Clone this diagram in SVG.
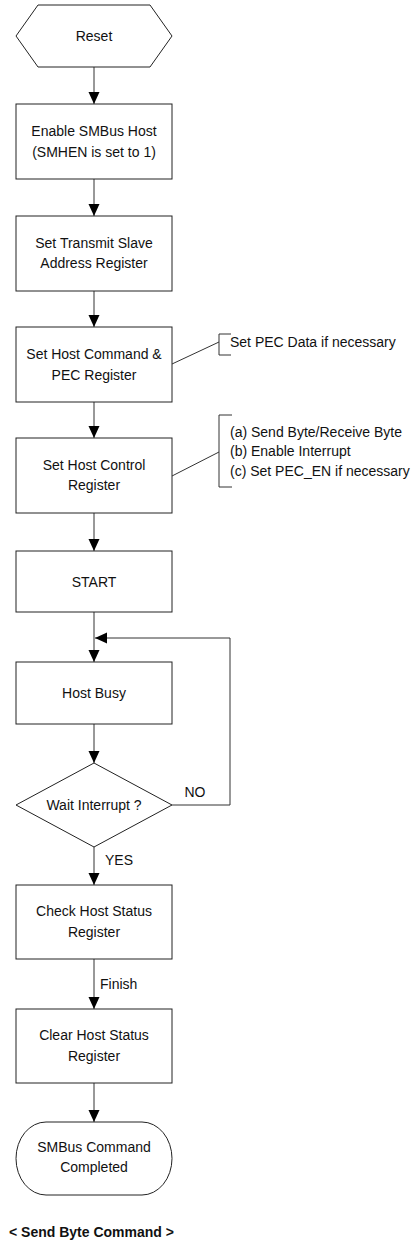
<svg xmlns="http://www.w3.org/2000/svg" width="414" height="1241" viewBox="0 0 414 1241">
<defs>
<style>
.shape{fill:#fff;stroke:#222;stroke-width:1}
.line{fill:none;stroke:#333;stroke-width:1}
text{font-family:"Liberation Sans",Arial,sans-serif;font-size:14px;fill:#111}
.c{text-anchor:middle}
.title{font-weight:bold}
</style>
<marker id="arr" viewBox="0 0 12 12" refX="12" refY="6" markerWidth="12" markerHeight="12" markerUnits="userSpaceOnUse" orient="auto">
<path d="M0,0.5 L12,6 L0,11.5 Z" fill="#000"/>
</marker>
</defs>
<rect width="414" height="1241" fill="#fff"/>
<g id="connectors">
<line class="line" x1="94" y1="67" x2="94" y2="104" marker-end="url(#arr)"/>
<line class="line" x1="94" y1="179" x2="94" y2="216" marker-end="url(#arr)"/>
<line class="line" x1="94" y1="291" x2="94" y2="327" marker-end="url(#arr)"/>
<line class="line" x1="94" y1="402" x2="94" y2="438" marker-end="url(#arr)"/>
<line class="line" x1="94" y1="513" x2="94" y2="551" marker-end="url(#arr)"/>
<line class="line" x1="94" y1="612" x2="94" y2="662" marker-end="url(#arr)"/>
<polyline class="line" points="172,805 230,805 230,638 95,638" marker-end="url(#arr)"/>
<line class="line" x1="94" y1="724" x2="94" y2="763" marker-end="url(#arr)"/>
<line class="line" x1="94" y1="847" x2="94" y2="885" marker-end="url(#arr)"/>
<line class="line" x1="94" y1="959" x2="94" y2="1009" marker-end="url(#arr)"/>
<line class="line" x1="94" y1="1083" x2="94" y2="1122" marker-end="url(#arr)"/>
<text x="195" y="797" class="c">NO</text>
<text x="105" y="865">YES</text>
<text x="100" y="989">Finish</text>
</g>
<g id="reset">
<polygon class="shape" points="16,36 38,5 150,5 172,36 150,67 38,67"/>
<text x="94" y="41" class="c">Reset</text>
</g>
<g id="enable">
<rect class="shape" x="16" y="104" width="156" height="75"/>
<text x="94" y="136" class="c">Enable SMBus Host</text>
<text x="94" y="157" class="c">(SMHEN is set to 1)</text>
</g>
<g id="slave">
<rect class="shape" x="16" y="216" width="156" height="75"/>
<text x="94" y="248" class="c">Set Transmit Slave</text>
<text x="94" y="268" class="c">Address Register</text>
</g>
<g id="command">
<rect class="shape" x="16" y="327" width="156" height="75"/>
<text x="94" y="359" class="c">Set Host Command &amp;</text>
<text x="94" y="380" class="c">PEC Register</text>
</g>
<g id="note1">
<line class="line" x1="172" y1="364" x2="219" y2="342"/>
<polyline class="line" points="231,334 219,334 219,355 231,355"/>
<text x="230" y="347">Set PEC Data if necessary</text>
</g>
<g id="control">
<rect class="shape" x="16" y="438" width="156" height="75"/>
<text x="94" y="470" class="c">Set Host Control</text>
<text x="94" y="490" class="c">Register</text>
</g>
<g id="note2">
<line class="line" x1="172" y1="476" x2="219" y2="452"/>
<polyline class="line" points="232,415 219,415 219,487 232,487"/>
<text x="230" y="437">(a) Send Byte/Receive Byte</text>
<text x="230" y="456">(b) Enable Interrupt</text>
<text x="230" y="476">(c) Set PEC_EN if necessary</text>
</g>
<g id="start">
<rect class="shape" x="16" y="551" width="156" height="61"/>
<text x="94" y="587" class="c">START</text>
</g>
<g id="busy">
<rect class="shape" x="16" y="662" width="156" height="62"/>
<text x="94" y="698" class="c">Host Busy</text>
</g>
<g id="wait">
<polygon class="shape" points="94,763 172,805 94,847 16,805"/>
<text x="94" y="810" class="c">Wait Interrupt ?</text>
</g>
<g id="check">
<rect class="shape" x="16" y="885" width="156" height="74"/>
<text x="94" y="916" class="c">Check Host Status</text>
<text x="94" y="937" class="c">Register</text>
</g>
<g id="clear">
<rect class="shape" x="16" y="1009" width="156" height="74"/>
<text x="94" y="1040" class="c">Clear Host Status</text>
<text x="94" y="1061" class="c">Register</text>
</g>
<g id="done">
<rect class="shape" x="16" y="1122" width="156" height="73" rx="30" ry="36.5"/>
<text x="94" y="1152" class="c">SMBus Command</text>
<text x="94" y="1172" class="c">Completed</text>
</g>
<g id="caption">
<text x="9" y="1237" class="title">&lt; Send Byte Command &gt;</text>
</g>
</svg>
